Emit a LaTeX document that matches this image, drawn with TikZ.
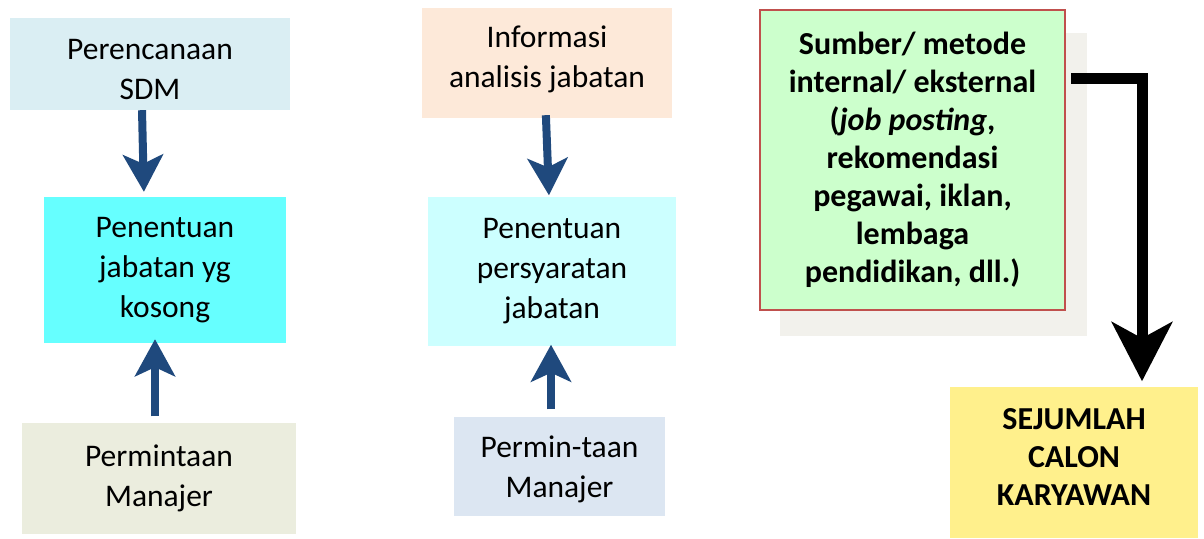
\documentclass[tikz,border=0pt]{standalone}
\usepackage{fontspec}
\setmainfont{Carlito}
\usetikzlibrary{arrows.meta}
\definecolor{boxA}{HTML}{DAEEF3}
\definecolor{boxB}{HTML}{66FFFF}
\definecolor{boxC}{HTML}{EBEDDE}
\definecolor{boxD}{HTML}{FDE9D9}
\definecolor{boxE}{HTML}{CCFFFF}
\definecolor{boxF}{HTML}{DCE6F2}
\definecolor{srcfill}{HTML}{CCFFCC}
\definecolor{srcedge}{HTML}{C0504D}
\definecolor{srcshade}{HTML}{F2F1EC}
\definecolor{resfill}{HTML}{FFF08C}
\definecolor{flowblue}{HTML}{1F497D}
\tikzset{
  card/.style={rectangle, inner sep=0pt, align=center,
    font=\fontsize{31.5}{40}\selectfont},
  boldcard/.style={card, font=\fontsize{32}{38}\selectfont\bfseries},
  bluearrow/.style={draw=flowblue, line width=8pt,
    -{Stealth[length=37pt,width=40pt,inset=9pt,color=flowblue]}},
  blackarrow/.style={draw=black, line width=11pt,
    -{Stealth[length=59pt,width=60pt,inset=16pt,color=black]}}
}
\begin{document}
\begin{tikzpicture}[x=1pt,y=-1pt]
\useasboundingbox (0,0) rectangle (1204,538);

% left column
\node[card, fill=boxA, minimum width=280pt, minimum height=92pt,
  label={[card,yshift=-6pt]center:{Perencanaan\\SDM}}] (plan) at (150,64) {};
\node[card, fill=boxB, minimum width=242pt, minimum height=146pt] (vacant) at (165,270) {Penentuan\\jabatan yg\\kosong};
\node[card, fill=boxC, minimum width=274pt, minimum height=111pt] (reqL) at (159,478) {Permintaan\\Manajer};

% middle column
\node[card, fill=boxD, minimum width=250pt, minimum height=110pt,
  label={[card,yshift=4pt]center:{Informasi\\analisis jabatan}}] (info) at (547,63) {};
\node[card, fill=boxE, minimum width=248pt, minimum height=149pt] (spec) at (552,271) {Penentuan\\persyaratan\\jabatan};
\node[card, fill=boxF, minimum width=211pt, minimum height=99pt,
  label={[card,yshift=-3.5pt]center:{Permin-taan\\Manajer}}] (reqM) at (559.5,466) {};

% right column
\fill[srcshade] (780,33) rectangle (1087,336);
\node[boldcard, fill=srcfill, draw=srcedge, line width=2pt, minimum width=305pt, minimum height=300pt] (src) at (912.5,160)
  {Sumber/ metode\\internal/ eksternal\\(\textit{job posting},\\rekomendasi\\pegawai, iklan,\\lembaga\\pendidikan, dll.)};
\node[boldcard, fill=resfill, minimum width=248pt, minimum height=151pt,
  label={[boldcard,yshift=5pt]center:{SEJUMLAH\\CALON\\KARYAWAN}}] (pool) at (1074,462) {};

% connectors
\draw[bluearrow, shorten >=5pt] ([xshift=-8pt]plan.south) -- ([xshift=-21pt]vacant.north);
\draw[bluearrow, shorten <=6pt, shorten >=-4pt] ([xshift=-4pt]reqL.north) -- ([xshift=-10pt]vacant.south);
\draw[bluearrow, shorten <=-3pt, shorten >=1pt] ([xshift=-1pt]info.south) -- ([xshift=-3pt]spec.north);
\draw[bluearrow, shorten <=7pt, shorten >=-1pt] ([xshift=-8.5pt]reqM.north) -- ([xshift=-1pt]spec.south);
\draw[blackarrow, shorten >=5pt] ([xshift=5pt,yshift=-69pt]src.north east) -| ([xshift=68pt]pool.north);
\end{tikzpicture}
\end{document}
